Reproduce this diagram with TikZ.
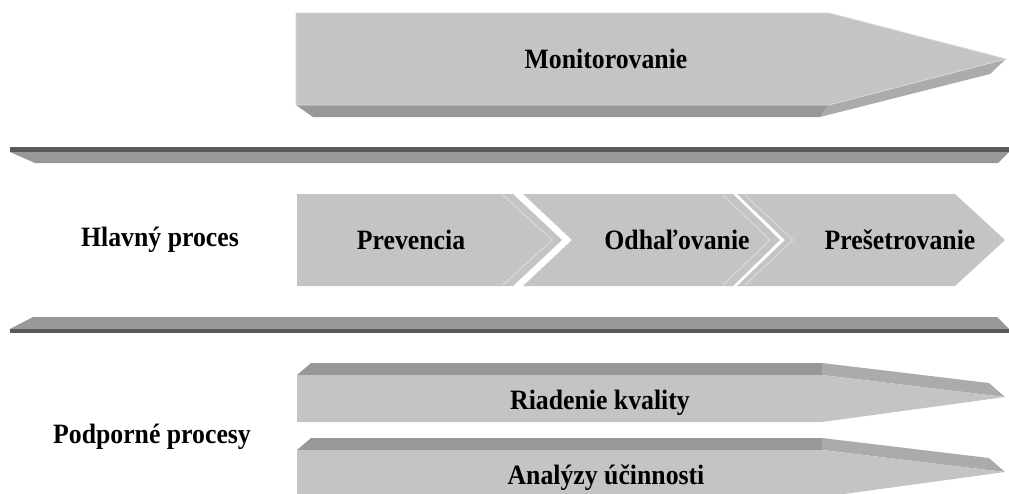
\documentclass[tikz,border=0pt]{standalone}
\usepackage{fontspec}
\setmainfont{Liberation Serif}[FakeStretch=0.92]
\definecolor{faceGray}{HTML}{C4C4C4}
\definecolor{bevelGray}{HTML}{989898}
\definecolor{tipGray}{HTML}{ABABAB}
\definecolor{barGray}{HTML}{5A5A5A}
\definecolor{lightGray}{HTML}{D8D8D8}

\tikzset{%
	every face/.style={
		fill=faceGray,
		draw=lightGray,
		line width=0.8pt
	},
	bevel dark/.style={
		fill=bevelGray
	},
	bevel tip/.style={
		fill=tipGray
	},
	edge light/.style={
		draw=lightGray,
		line width=1.2pt
	},
	step label/.style={
		font=\bfseries\fontsize{28}{32}\selectfont,
		inner sep=0pt
	},
}

\begin{document}
\begin{tikzpicture}[x=1pt, y=-1pt]

\useasboundingbox (0,0) rectangle (1009,493);
\clip (0,0) rectangle (1009,493);

% monitoring arrow
\fill [bevel dark] (296,105) -- (829,105) -- (820,117) -- (313,117) -- cycle;
\fill [bevel tip] (829,105) -- (1006,59) -- (990,74) -- (820,117) -- cycle;
\draw [every face] (296,13) -- (829,13) -- (1006,59) -- (829,105) -- (296,105) -- cycle;
\node [step label] (monitor) at (606,59) {Monitorovanie};

% separators
\fill [bevel dark] (10,152) -- (1009,152) -- (998,163) -- (35,163) -- cycle;
\fill [barGray] (10,147) rectangle (1009,152);
\fill [bevel dark] (10,329) -- (33,317) -- (997,317) -- (1009,329) -- cycle;
\fill [barGray] (10,329) rectangle (1009,333);

% main process chevrons
\foreach \l/\n/\s/\t [count=\i] in {297/297/513/562, 523/572/733/780, 737/785/955/1005}
\fill [faceGray] (\l,194) -- (\s,194) -- (\t,240) -- (\s,286) -- (\l,286) -- (\n,240) -- cycle;

\foreach \s/\t in {513/562, 733/780}
\draw [edge light] (\s-10,195) -- (\t-10,240) -- (\s-10,285);

\draw [edge light] (745,195) -- (793,240) -- (745,285);

\foreach \m/\x [count=\i] in {Prevencia/411, Odhaľovanie/677, Prešetrovanie/900}
\node [step label] (main-\i) at (\x,240) {\m};

% support process bars
\foreach \d in {0,75}{
	\fill [bevel dark] (297,375+\d) -- (311,363+\d) -- (822,363+\d) -- (822,375+\d) -- cycle;
	\fill [bevel tip] (822,363+\d) -- (989,383+\d) -- (1005,397+\d) -- (822,375+\d) -- cycle;
	\fill [faceGray] (297,375+\d) -- (822,375+\d) -- (1005,397+\d) -- (822,422+\d) -- (297,422+\d) -- cycle;
}

\node [step label] (support-1) at (600,403) {Riadenie kvality};
\node [step label] (support-2) at (606,478) {Analýzy účinnosti};

% row labels
\node [step label] (main) at (160,240) {Hlavný proces};
\node [step label] (support) at (152,437) {Podporné procesy};

\end{tikzpicture}
\end{document}
